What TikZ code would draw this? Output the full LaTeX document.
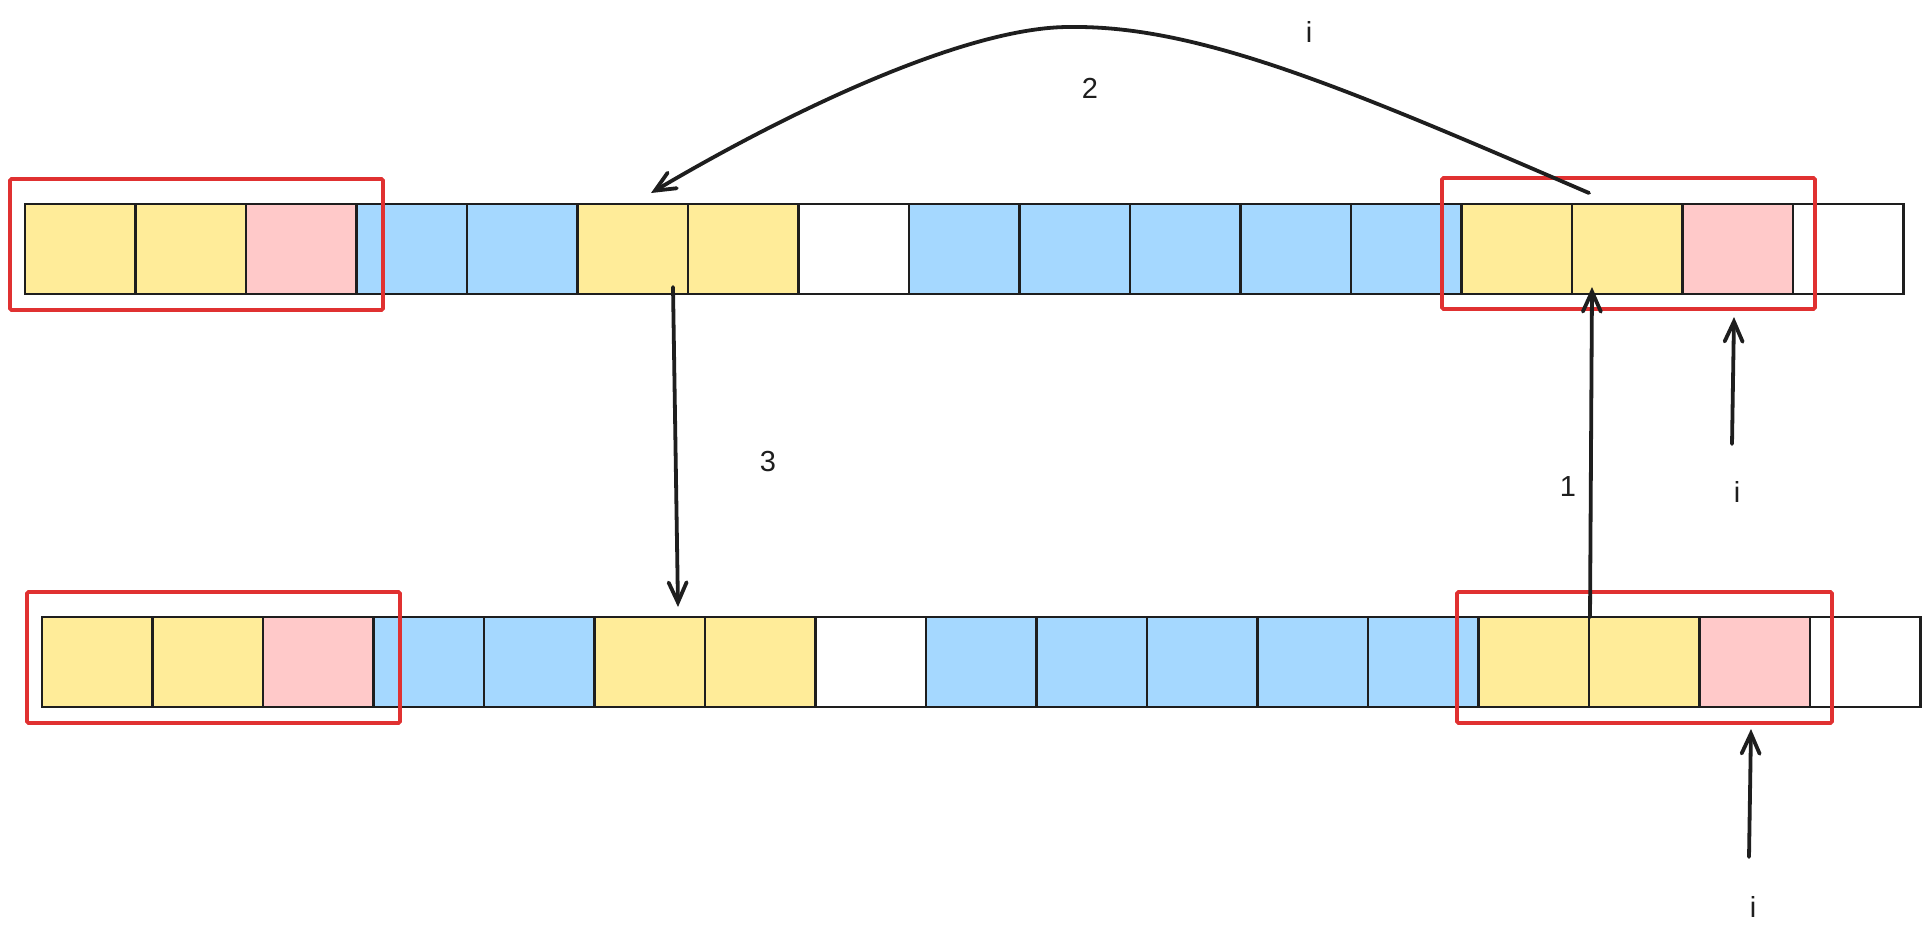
\documentclass[tikz,border=0pt]{standalone}
\usepackage{fontspec}
\setmainfont{Liberation Sans}
\usetikzlibrary{arrows.meta}
\definecolor{ink}{HTML}{1E1E1E}
\definecolor{cY}{HTML}{FFEC99}
\definecolor{cP}{HTML}{FFC9C9}
\definecolor{cB}{HTML}{A5D8FF}
\definecolor{cW}{HTML}{FFFFFF}
\definecolor{redbox}{HTML}{E03131}
\begin{document}
\begin{tikzpicture}[x=1pt,y=-1pt,
  cell/.style={draw=ink,line width=2.4pt,minimum width=110.5pt,minimum height=90pt,inner sep=0pt,outer sep=0pt},
  frame/.style={draw=redbox,line width=3.6pt,rounded corners=1.5pt,inner sep=0pt,outer sep=0pt,minimum height=131pt},
  arr/.style={draw=ink,line width=3.8pt,line cap=round,-{Straight Barb[length=20pt,width=18pt,line cap=round]}},
  lbl/.style={font=\fontsize{29}{32}\selectfont,text=ink,inner sep=0pt}
]
\useasboundingbox (0,0) rectangle (1929,940);
\fill[white] (0,0) rectangle (1929,940);
\foreach \c [count=\k from 0] in {cY,cY,cP,cB,cB,cY,cY,cW,cB,cB,cB,cB,cB,cY,cY,cP,cW}{
  \node[cell,fill=\c] (t\k) at ({25+110.5*(\k+0.5)},249) {};
  \node[cell,fill=\c] (b\k) at ({42+110.5*(\k+0.5)},662) {};
}
% red frames
\node[frame,minimum width=373pt] (rTL) at (196.5,244.5) {};
\node[frame,minimum width=373pt] (rTR) at (1628.5,243.5) {};
\node[frame,minimum width=373pt] (rBL) at (213.5,657.5) {};
\node[frame,minimum width=375pt] (rBR) at (1644.5,657.5) {};
% labels
\node[lbl] (l1) at (1568,487) {1};
\node[lbl] (l2) at (1090,88) {2};
\node[lbl] (l3) at (768,462) {3};
\node[lbl] (li0) at (1309,32) {i};
\node[lbl] (li1) at (1737,492) {i};
\node[lbl] (li2) at (1753,907) {i};
% arrow endpoints
\coordinate (a1s) at (1590,617);
\coordinate (a1e) at (1592,287);
\coordinate (a3s) at (673,287);
\coordinate (a3e) at (678,607);
\coordinate (aits) at (1732,444);
\coordinate (aite) at (1734,317);
\coordinate (aibs) at (1749,857);
\coordinate (aibe) at (1751,729);
\coordinate (c2s) at (1589,193);
\coordinate (c2m) at (1069,27);
\coordinate (c2e) at (651,193);
% arrows
\draw[arr] (a1s) -- (a1e);
\draw[arr] (a3s) -- (a3e);
\draw[arr] (aits) -- (aite);
\draw[arr] (aibs) -- (aibe);
\draw[arr] (c2s) .. controls (1350,90) and (1200,25) .. (c2m) .. controls (970,27) and (800,105) .. (c2e);
\end{tikzpicture}
\end{document}
